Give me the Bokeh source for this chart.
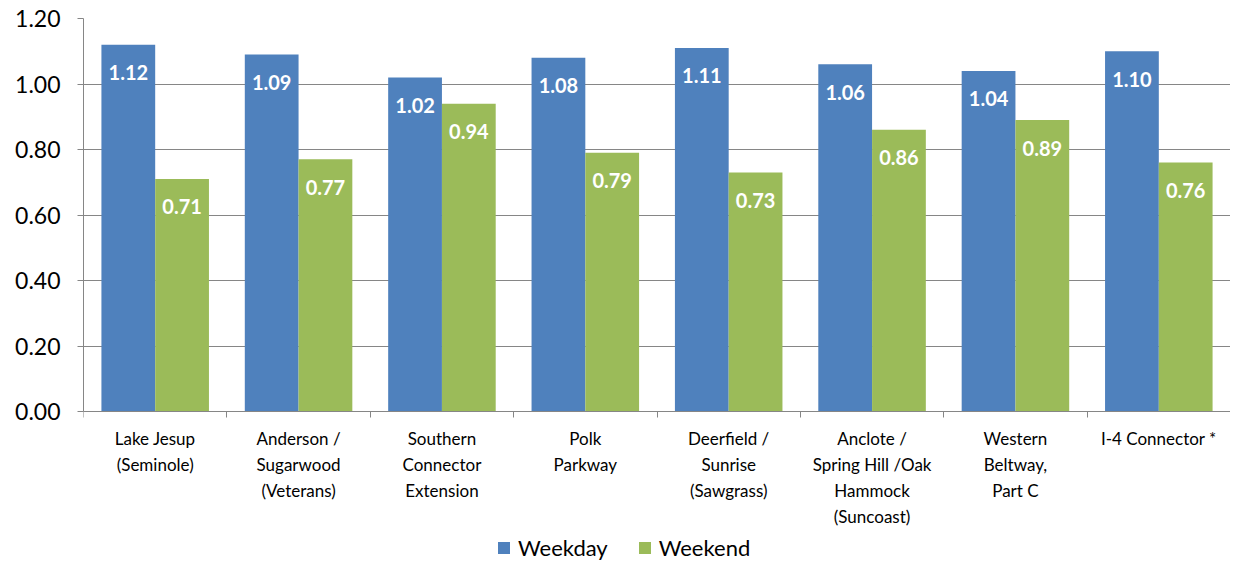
import numpy as np
from bokeh.plotting import figure
from bokeh.models import (ColumnDataSource, Range1d, FixedTicker, NumeralTickFormatter,
                          Legend, LegendItem)
from bokeh.transform import dodge
from bokeh.core.properties import value
from bokeh.embed import file_html
from bokeh.resources import INLINE

categories = ["Lake Jesup\n(Seminole)", "Anderson /\nSugarwood\n(Veterans)",
              "Southern\nConnector\nExtension", "Polk\nParkway",
              "Deerfield /\nSunrise\n(Sawgrass)", "Anclote /\nSpring Hill /Oak\nHammock\n(Suncoast)",
              "Western\nBeltway,\nPart C", "I-4 Connector *"]
weekday = [1.12, 1.09, 1.02, 1.08, 1.11, 1.06, 1.04, 1.10]
weekend = [0.71, 0.77, 0.94, 0.79, 0.73, 0.86, 0.89, 0.76]
y_ticks = [0.0, 0.2, 0.4, 0.6, 0.8, 1.0, 1.2]

BLUE = "#4F81BD"
GREEN = "#9BBB59"
GRAY = "#868686"
FONT = "Lato"

n = len(categories)
centers = np.arange(n) + 0.5
src = ColumnDataSource(dict(
    x=centers, weekday=weekday, weekend=weekend,
    wd_lbl=[f"{v:.2f}" for v in weekday], we_lbl=[f"{v:.2f}" for v in weekend]))

# frame spans the chart area plus the label/legend band below it;
# the value axis (0..1.2) occupies the upper 393 px of the 545 px frame
FRAME_H = 545
Y_MIN = 1.2 - 1.2 * FRAME_H / 393.0

p = figure(frame_width=1147, frame_height=FRAME_H, x_range=Range1d(0, n),
           y_range=Range1d(Y_MIN, 1.2),
           output_backend="svg", toolbar_location=None,
           min_border_left=83, min_border_top=18, min_border_right=0, min_border_bottom=0)
p.outline_line_color = None
p.background_fill_color = "white"

bw = 0.375
r1 = p.vbar(x=dodge("x", -bw / 2, range=p.x_range), top="weekday", bottom=0, width=bw,
            source=src, fill_color=BLUE, line_color=None)
r2 = p.vbar(x=dodge("x", bw / 2, range=p.x_range), top="weekend", bottom=0, width=bw,
            source=src, fill_color=GREEN, line_color=None)

for col, lbl, off in (("weekday", "wd_lbl", -bw / 2), ("weekend", "we_lbl", bw / 2)):
    p.text(x=dodge("x", off, range=p.x_range), y=col, text=lbl, source=src,
           text_color="white", text_font=value(FONT), text_font_style="bold",
           text_font_size="20px", text_align="center", text_baseline="middle",
           y_offset=28)

# x axis, drawn at y = 0
xa = p.xaxis[0]
xa.fixed_location = 0
xa.ticker = FixedTicker(ticks=list(centers), minor_ticks=list(range(n + 1)))
xa.major_label_overrides = {float(c): categories[i] for i, c in enumerate(centers)}
xa.major_tick_out = 0
xa.major_tick_in = 0
xa.minor_tick_out = 6
xa.minor_tick_in = 0
xa.minor_tick_line_color = GRAY
xa.axis_line_color = GRAY
xa.major_label_text_font = FONT
xa.major_label_text_font_size = "17px"
xa.major_label_text_color = "black"
xa.major_label_text_line_height = 1.25
xa.major_label_standoff = 10

# y axis
ya = p.yaxis[0]
ya.ticker = FixedTicker(ticks=y_ticks)
ya.bounds = (0, 1.2)
ya.formatter = NumeralTickFormatter(format="0.00")
ya.major_tick_out = 6
ya.major_tick_in = 0
ya.minor_tick_out = 0
ya.minor_tick_in = 0
ya.major_tick_line_color = GRAY
ya.axis_line_color = GRAY
ya.major_label_text_font = FONT
ya.major_label_text_font_size = "23px"
ya.major_label_text_color = "black"
ya.major_label_standoff = 17

p.xgrid.grid_line_color = None
p.ygrid.grid_line_color = GRAY
p.ygrid.ticker = FixedTicker(ticks=y_ticks)

legend = Legend(items=[LegendItem(label="Weekday", renderers=[r1]),
                       LegendItem(label="Weekend", renderers=[r2])],
                orientation="horizontal", location=(413, 2),
                label_text_font=FONT, label_text_font_size="22px", label_text_color="black",
                glyph_width=15, glyph_height=15, label_standoff=7, spacing=29,
                border_line_color=None, background_fill_alpha=0, margin=0, padding=0)
p.add_layout(legend)

open("out.html", "w").write(file_html(p, INLINE))
